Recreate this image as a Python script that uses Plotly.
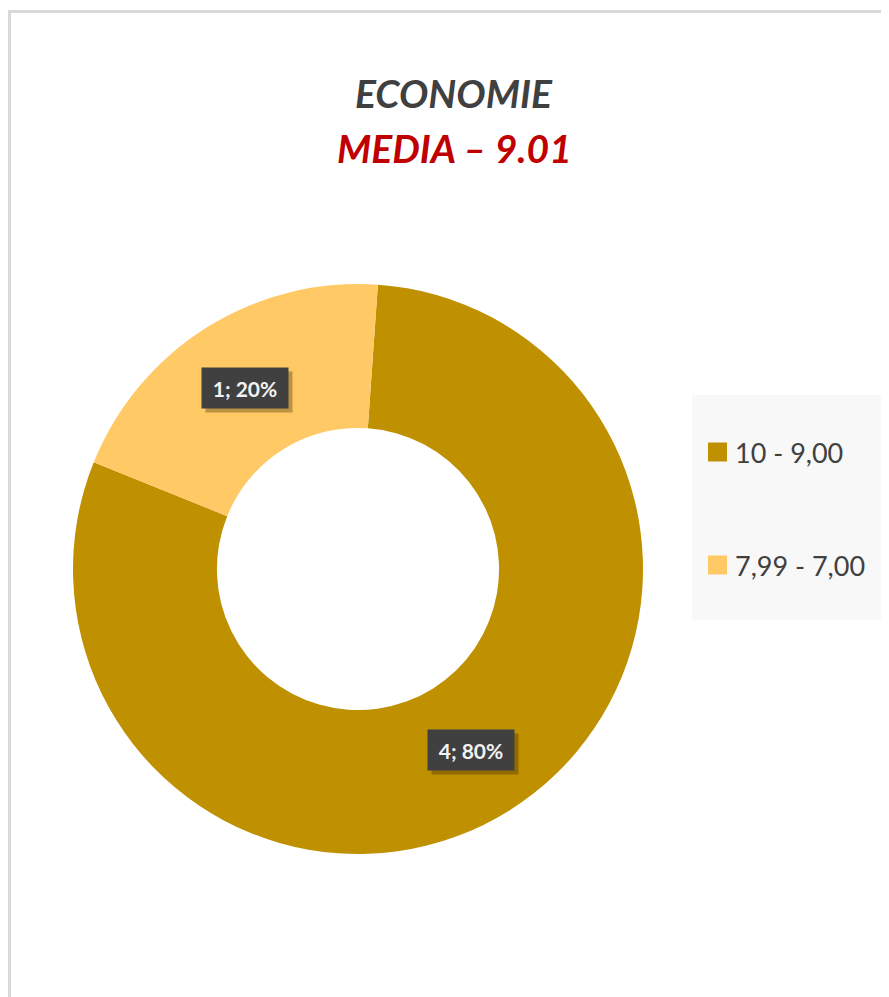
import math

import plotly.graph_objects as go

# dati
labels = ["10 - 9,00", "7,99 - 7,00"]
values = [4, 1]
colors = ["#BF9000", "#FFC966"]
title_main = "ECONOMIE"
title_sub = "MEDIA – 9.01"

# la pagina html ha 8px di margine sul body
OFF = 8
W, H = 889 - OFF, 997 - OFF
FONT = "Lato, Calibri, 'Open Sans', sans-serif"

# geometria della ciambella (pixel della finestra)
cx, cy, R = 358, 569, 285
hole = 0.495
rotation = 4


def px_x(x):
    return (x - OFF) / W


def px_y(y):
    return 1 - (y - OFF) / H


fig = go.Figure(
    go.Pie(
        labels=labels,
        values=values,
        hole=hole,
        sort=False,
        direction="clockwise",
        rotation=rotation,
        marker=dict(colors=colors, line=dict(width=0)),
        textinfo="none",
        hovertemplate="%{label}: %{value} (%{percent})<extra></extra>",
        showlegend=False,
        domain=dict(x=[px_x(cx - R), px_x(cx + R)], y=[px_y(cy + R), px_y(cy - R)]),
    )
)

# etichette dati "n; pct" al centro di ogni fetta
total = sum(values)
r_mid = R * (1 + hole) / 2
start = rotation
for v in values:
    frac = v / total
    mid = math.radians(start + frac * 360 / 2)
    start += frac * 360
    lx = cx + r_mid * math.sin(mid)
    ly = cy - r_mid * math.cos(mid)
    txt = f"{v}; {round(frac * 100)}%"
    # ombra
    fig.add_annotation(
        x=px_x(lx), y=px_y(ly), xref="paper", yref="paper", text=" ",
        xanchor="center", yanchor="middle",
        showarrow=False, width=84, height=38, bgcolor="rgba(60,40,0,0.35)",
        xshift=4, yshift=-4,
    )
    fig.add_annotation(
        x=px_x(lx), y=px_y(ly), xref="paper", yref="paper", text=f"<b>{txt}</b>",
        xanchor="center", yanchor="middle",
        showarrow=False, width=84, height=38, bgcolor="#404040",
        font=dict(family=FONT, size=21, color="#F2F2F2"),
    )

# titolo
fig.add_annotation(
    x=px_x(454), y=px_y(93), xref="paper", yref="paper", showarrow=False,
    xanchor="center", yanchor="middle",
    text=f"<b><i>{title_main}</i></b>",
    font=dict(family=FONT, size=39, color="#404040"),
)
fig.add_annotation(
    x=px_x(454), y=px_y(148), xref="paper", yref="paper", showarrow=False,
    xanchor="center", yanchor="middle",
    text=f"<b><i>{title_sub}</i></b>",
    font=dict(family=FONT, size=39, color="#C00000"),
)

# cornice e legenda disegnata a mano
shapes = [
    dict(type="rect", xref="paper", yref="paper",
         x0=px_x(9.5), x1=px_x(W + 40), y0=px_y(H + 40), y1=px_y(11.5),
         line=dict(color="#D9D9D9", width=3), fillcolor="rgba(0,0,0,0)"),
    dict(type="rect", xref="paper", yref="paper",
         x0=px_x(692), x1=px_x(882), y0=px_y(620), y1=px_y(395),
         line=dict(width=0), fillcolor="#F8F8F8", layer="below"),
]
leg_y = [452, 565]
for lab, col, yy in zip(labels, colors, leg_y):
    shapes.append(dict(type="rect", xref="paper", yref="paper",
                       x0=px_x(708), x1=px_x(727), y0=px_y(yy + 9.5), y1=px_y(yy - 9.5),
                       line=dict(width=0), fillcolor=col))
    fig.add_annotation(
        x=px_x(733), y=px_y(yy), xref="paper", yref="paper", showarrow=False,
        xanchor="left", yanchor="middle", text=lab,
        font=dict(family=FONT, size=27, color="#404040"),
    )

fig.update_layout(
    width=W,
    height=H,
    margin=dict(l=0, r=0, t=0, b=0),
    paper_bgcolor="white",
    plot_bgcolor="white",
    shapes=shapes,
)

fig.write_html("out.html")
